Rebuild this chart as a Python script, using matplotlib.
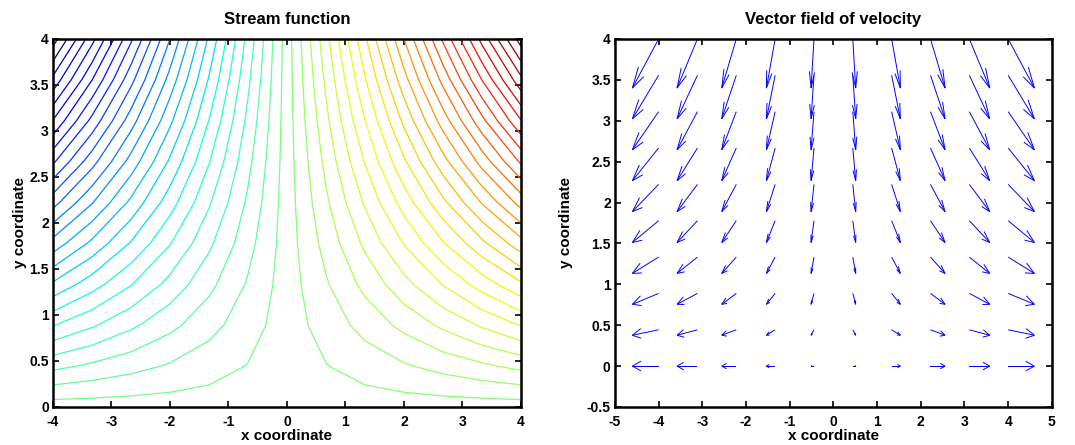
import numpy as np
import matplotlib.pyplot as plt

plt.rcParams['font.family'] = ['Liberation Sans', 'DejaVu Sans']
plt.rcParams['font.weight'] = 'bold'
plt.rcParams['axes.unicode_minus'] = False

# grid of the stream function (coarse, as in the picture)
x_grid = [-4.0, -3.333, -2.667, -2.0, -1.333, -0.667, 0.0, 0.667, 1.333, 2.0, 2.667, 3.333, 4.0]
y_grid = [0.0, 0.444, 0.889, 1.333, 1.778, 2.222, 2.667, 3.111, 3.556, 4.0]
# contour levels of psi
psi_levels = [-15.68, -15.04, -14.4, -13.76, -13.12, -12.48, -11.84, -11.2, -10.56, -9.92,
              -9.28, -8.64, -8.0, -7.36, -6.72, -6.08, -5.44, -4.8, -4.16, -3.52,
              -2.88, -2.24, -1.6, -0.96, -0.32, 0.32, 0.96, 1.6, 2.24, 2.88,
              3.52, 4.16, 4.8, 5.44, 6.08, 6.72, 7.36, 8.0, 8.64, 9.28,
              9.92, 10.56, 11.2, 11.84, 12.48, 13.12, 13.76, 14.4, 15.04, 15.68]

# velocity field: arrow tails, x-velocity per column, y-velocity per row
xq = [-4.0, -3.111, -2.222, -1.333, -0.444, 0.444, 1.333, 2.222, 3.111, 4.0]
yq = [0.0, 0.444, 0.889, 1.333, 1.778, 2.222, 2.667, 3.111, 3.556, 4.0]
u_cols = [-4.0, -3.111, -2.222, -1.333, -0.444, 0.444, 1.333, 2.222, 3.111, 4.0]
v_rows = [0.0, -0.444, -0.889, -1.333, -1.778, -2.222, -2.667, -3.111, -3.556, -4.0]

fig = plt.figure(figsize=(10.75, 4.45), dpi=100)
ax1 = fig.add_axes([0.0493, 0.0854, 0.4353, 0.827])
ax2 = fig.add_axes([0.572, 0.0854, 0.4065, 0.827])

X, Y = np.meshgrid(x_grid, y_grid)
psi = X * Y  # stream function psi = x*y
ax1.contour(X, Y, psi, levels=psi_levels, cmap='jet', vmin=-15.68, vmax=15.68, linewidths=0.9)
ax1.set_xlim(-4, 4)
ax1.set_ylim(0, 4)
ax1.set_xticks(np.arange(-4, 5, 1))
ax1.set_yticks(np.arange(0, 4.5, 0.5))
ax1.set_yticklabels(['0', '0.5', '1', '1.5', '2', '2.5', '3', '3.5', '4'])
ax1.set_title('Stream function', fontsize=12, fontweight='bold', pad=11)
ax1.set_xlabel('x coordinate', fontsize=11, fontweight='bold', labelpad=0)
ax1.set_ylabel('y coordinate', fontsize=11, fontweight='bold', labelpad=2)

# matlab-like quiver: shaft plus two open barbs at the tip
s = 0.15      # arrow length per unit velocity (data units)
alpha = 0.33  # head length relative to arrow
beta = 0.3    # head half-width relative to head length
XQ, YQ = np.meshgrid(xq, yq)
U, V = np.meshgrid(u_cols, v_rows)
qkw = dict(color='blue', angles='xy', scale_units='xy', scale=1 / s,
           width=0.0022, headwidth=1, headlength=0, headaxislength=0)
ax2.quiver(XQ, YQ, U, V, **qkw)
TX, TY = XQ + U * s, YQ + V * s
ax2.quiver(TX, TY, -alpha * (U + beta * V), -alpha * (V - beta * U), **qkw)
ax2.quiver(TX, TY, -alpha * (U - beta * V), -alpha * (V + beta * U), **qkw)
ax2.set_xlim(-5, 5)
ax2.set_ylim(-0.5, 4)
ax2.set_xticks(np.arange(-5, 6, 1))
ax2.set_yticks(np.arange(-0.5, 4.5, 0.5))
ax2.set_yticklabels(['-0.5', '0', '0.5', '1', '1.5', '2', '2.5', '3', '3.5', '4'])
ax2.set_title('Vector field of velocity', fontsize=12, fontweight='bold', pad=11)
ax2.set_xlabel('x coordinate', fontsize=11, fontweight='bold', labelpad=0)
ax2.set_ylabel('y coordinate', fontsize=11, fontweight='bold', labelpad=10)

for ax in (ax1, ax2):
    ax.tick_params(direction='in', top=True, right=True, length=4, width=1.2, labelsize=10)
    ax.tick_params(axis='x', pad=6)
    ax.tick_params(axis='y', pad=3)
    for lab in ax.get_xticklabels() + ax.get_yticklabels():
        lab.set_fontweight('bold')
    for sp in ax.spines.values():
        sp.set_linewidth(1.8)

fig.savefig('out.png', dpi=100)
